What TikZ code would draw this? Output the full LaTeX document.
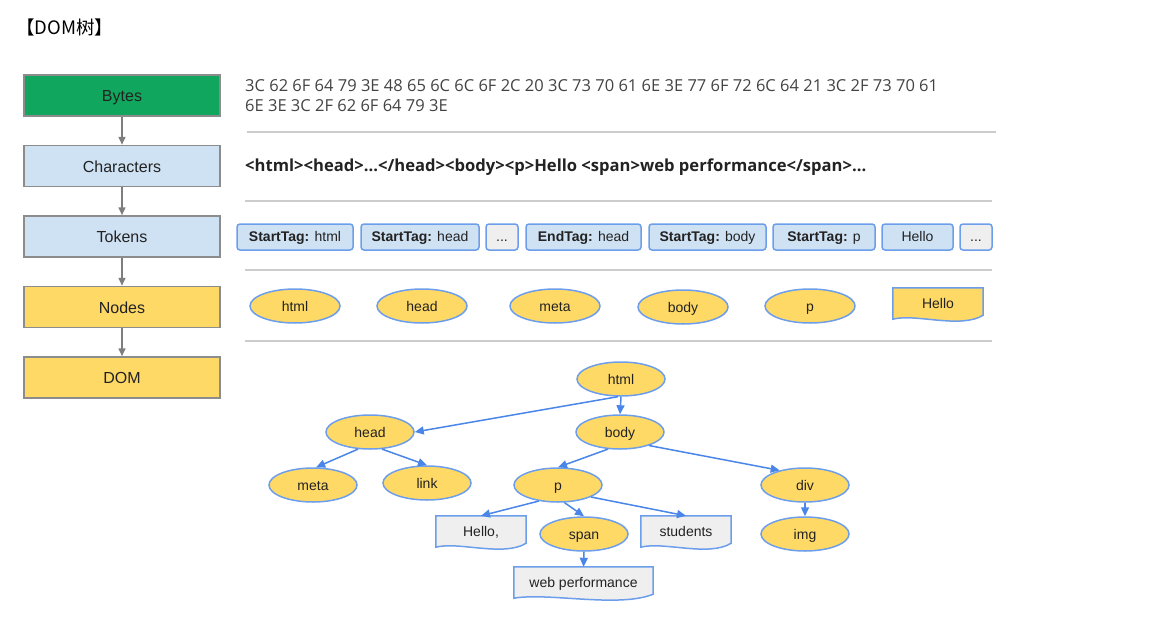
\documentclass[tikz,border=0pt]{standalone}
\usepackage{fontspec}
\setmainfont{Liberation Sans}
\newfontfamily\cjk{Noto Sans CJK SC}
\newfontfamily\opensans{Open Sans}
\usetikzlibrary{arrows.meta,shapes.geometric,calc}
\pgfdeclarelayer{background}
\pgfsetlayers{background,main}
\definecolor{bytesgreen}{HTML}{11A65D}
\definecolor{charblue}{HTML}{CFE2F3}
\definecolor{nodeyellow}{HTML}{FFD966}
\definecolor{edgeblue}{HTML}{6D9EEB}
\definecolor{arrowblue}{HTML}{4A86E8}
\definecolor{paleGray}{HTML}{EFEFEF}
\definecolor{stageedge}{HTML}{8C8C8C}
\definecolor{sepgray}{HTML}{CCCCCC}
\definecolor{textdark}{HTML}{222222}
\newcommand{\treefont}{\fontsize{14}{16}\selectfont}
% document shape with a wavy bottom, drawn behind a named node
\newcommand{\docshape}[2]{%
  \begin{pgfonlayer}{background}
    \filldraw[edgeblue, line width=1.5pt, fill=#2]
      (#1.north west) -- (#1.north east) -- ($(#1.south east)+(0,-4)$)
      .. controls ($(#1.south east)!0.5!(#1.south)+(0,10)$) and ($(#1.south west)!0.5!(#1.south)+(0,-6)$)
      .. (#1.south west) -- cycle;
  \end{pgfonlayer}}

\begin{document}
\begin{tikzpicture}[x=1pt,y=-1pt,
    stage/.style={draw=stageedge, line width=1.5pt, minimum width=196pt, minimum height=41pt,
      inner sep=0pt, text height=12pt, text depth=0pt, text=textdark, font=\fontsize{16}{18}\selectfont},
    stagearrow/.style={-{Triangle[length=8pt,width=7pt]}, draw=stageedge!90!black, line width=1.5pt},
    token/.style={draw=edgeblue, line width=1.5pt, rounded corners=3pt, minimum height=26pt,
      inner sep=0pt, text height=10pt, text depth=0.5pt, text=textdark, font=\treefont},
    tag/.style={ellipse, draw=edgeblue, line width=1.5pt, fill=nodeyellow, minimum width=88pt,
      minimum height=34pt, inner sep=0pt, text height=10pt, text depth=0pt, text=textdark, font=\treefont},
    doc/.style={minimum height=31pt, inner sep=0pt, text height=10pt, text depth=0.5pt,
      text=textdark, font=\treefont},
    tree/.style={-{Triangle[length=9pt,width=8pt]}, draw=arrowblue, line width=1.5pt},
    sepline/.style={draw=sepgray, line width=1.5pt}]
\useasboundingbox (0,0) rectangle (1164,621);

\node[anchor=west, inner sep=0pt, font=\cjk\fontsize{18.5}{20}\selectfont] (title) at (16,27) {【DOM树】};

% stages on the left
\node[stage, fill=bytesgreen] (bytes) at (122,95.5) {Bytes};
\node[stage, fill=charblue] (chars) at (122,166) {Characters};
\node[stage, fill=charblue] (tokens) at (122,236.5) {Tokens};
\node[stage, fill=nodeyellow] (nodes) at (122,307) {Nodes};
\node[stage, fill=nodeyellow] (dom) at (122,377.5) {DOM};
\draw[stagearrow] (bytes) -- (chars);
\draw[stagearrow] (chars) -- (tokens);
\draw[stagearrow] (tokens) -- (nodes);
\draw[stagearrow] (nodes) -- (dom);

% bytes and characters
\node[anchor=base west, inner sep=0pt, text=textdark!85, font=\opensans\fontsize{16.5}{19}\selectfont] (hexa) at (245,91.5)
  {3C 62 6F 64 79 3E 48 65 6C 6C 6F 2C 20 3C 73 70 61 6E 3E 77 6F 72 6C 64 21 3C 2F 73 70 61};
\node[anchor=base west, inner sep=0pt, text=textdark!85, font=\opensans\fontsize{16.5}{19}\selectfont] (hexb) at (245,111.5)
  {6E 3E 3C 2F 62 6F 64 79 3E};
\node[anchor=base west, inner sep=0pt, text=textdark, font=\opensans\bfseries\fontsize{16.6}{18}\selectfont] (html) at (245,171.5)
  {<html><head>...</head><body><p>Hello <span>web performance</span>...};

\draw[sepline] (247,132) -- (996,132);
\draw[sepline] (245,201) -- (992,201);
\draw[sepline] (245,270) -- (992,270);
\draw[sepline] (245,341) -- (992,341);

% tokens
\foreach \n/\x/\w/\f/\t in {1/295/116/charblue/{\textbf{StartTag:} html},
    2/420/118/charblue/{\textbf{StartTag:} head}, 3/502/32/paleGray/{...},
    4/583.5/115/charblue/{\textbf{EndTag:} head}, 5/707.5/117/charblue/{\textbf{StartTag:} body},
    6/824/102/charblue/{\textbf{StartTag:} p}, 7/917.5/71/charblue/{Hello},
    8/976/32/paleGray/{...}}
  \node[token, fill=\f, minimum width=\w pt] (tok\n) at (\x,237) {\t};

% nodes
\node[tag, minimum width=90pt] (nhtml) at (295,306) {html};
\node[tag, minimum width=90pt] (nhead) at (422,306) {head};
\node[tag, minimum width=90pt] (nmeta) at (555,306) {meta};
\node[tag, minimum width=90pt] (nbody) at (683,307) {body};
\node[tag, minimum width=90pt] (np) at (810,306) {p};
\node[doc, minimum width=90pt] (nhello) at (938,303.5) {Hello};
\docshape{nhello}{nodeyellow}

% DOM tree
\node[tag] (html) at (621,379) {html};
\node[tag] (head) at (370,432) {head};
\node[tag] (body) at (620,432) {body};
\node[tag] (meta) at (313,485) {meta};
\node[tag] (link) at (427,483) {link};
\node[tag] (p) at (558,485) {p};
\node[tag] (div) at (805,485) {div};
\node[tag] (img) at (805,534) {img};
\node[tag] (span) at (584,534) {span};
\node[doc, minimum width=90pt] (hello) at (481,531.5) {Hello,};
\node[doc, minimum width=90pt] (students) at (686,531.5) {students};
\node[doc, minimum width=139pt] (web) at (583.5,582.5) {web performance};
\docshape{hello}{paleGray}
\docshape{students}{paleGray}
\docshape{web}{paleGray}

\draw[tree] (html.260) -- (head.east);
\draw[tree] (html.south) -- (body.north);
\draw[tree] (head.235) -- (meta.80);
\draw[tree] (head.-55) -- (link.north);
\draw[tree] (body.235) -- (p.north);
\draw[tree] (body.-25) -- (div.150);
\draw[tree] (p.220) -- (hello.north);
\draw[tree] (p.-70) -- (span.north);
\draw[tree] (p.-20) -- (students.north);
\draw[tree] (span.south) -- (web.north);
\draw[tree] (div.south) -- (img.north);
\end{tikzpicture}
\end{document}
